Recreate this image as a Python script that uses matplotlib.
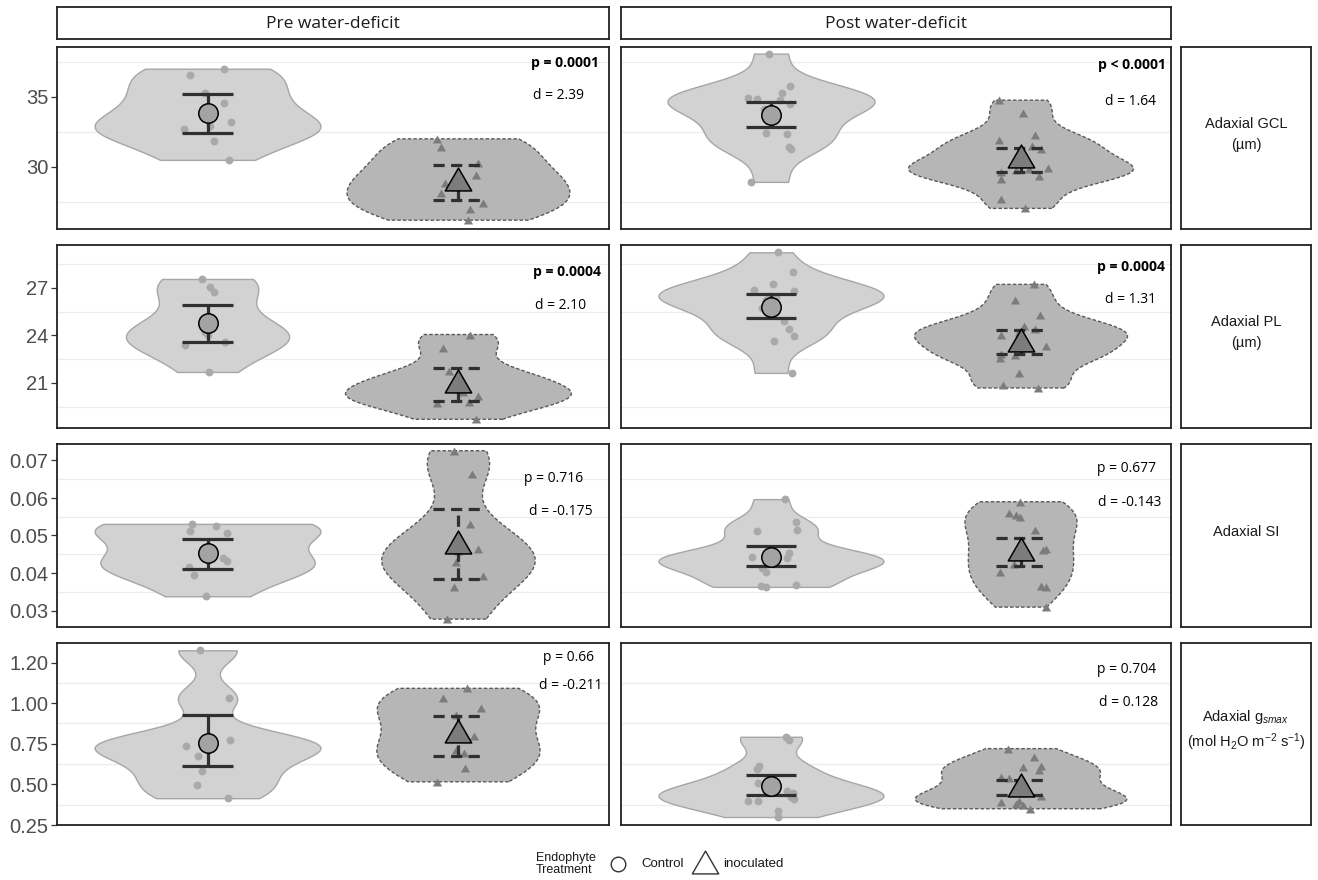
import numpy as np
import matplotlib
matplotlib.use("Agg")
import matplotlib.pyplot as plt
from matplotlib.path import Path

plt.rcParams['font.family'] = ['Liberation Sans', 'DejaVu Sans']
plt.rcParams['mathtext.fontset'] = 'custom'
plt.rcParams['mathtext.rm'] = 'Liberation Sans'
plt.rcParams['mathtext.it'] = 'Liberation Sans:italic'

# ---------------- data ----------------
columns = ["Pre water-deficit", "Post water-deficit"]
traits = ["Adaxial GCL\n(µm)", "Adaxial PL\n(µm)", "Adaxial SI",
          "Adaxial g$_{smax}$\n(mol H$_2$O m$^{-2}$ s$^{-1}$)"]
groups = ["Control", "inoculated"]

# Adaxial GCL
gcl_pre_ctrl = [37.0, 36.52, 35.26, 34.55, 33.19, 32.9, 32.71, 31.88, 30.5]
gcl_pre_ctrl_jit = [0.066, -0.071, -0.011, 0.066, 0.095, 0.008, -0.095, 0.024, 0.087]
gcl_pre_inoc = [32.0, 31.4, 30.26, 29.43, 28.83, 28.17, 27.45, 26.98, 26.2]
gcl_pre_inoc_jit = [-0.087, -0.071, 0.076, 0.071, -0.055, -0.071, 0.098, 0.047, 0.039]
gcl_post_ctrl = [38.08, 35.76, 35.24, 34.93, 34.86, 34.76, 34.45, 34.1, 33.4, 32.44, 32.32, 31.45, 31.3, 28.93]
gcl_post_ctrl_jit = [-0.007, 0.074, 0.043, -0.093, -0.057, 0.036, 0.076, -0.029, 0.0, -0.021, 0.064, 0.071, 0.079, -0.081]
gcl_post_inoc = [34.76, 33.82, 32.27, 31.92, 31.49, 31.26, 30.6, 29.85, 29.95, 29.75, 29.64, 29.36, 29.12, 27.7, 27.04]
gcl_post_inoc_jit = [-0.09, 0.007, 0.057, -0.09, 0.043, 0.079, 0.0, 0.03, 0.107, -0.02, -0.079, 0.071, -0.081, -0.081, 0.014]

# Adaxial PL
pl_pre_ctrl = [27.55, 27.06, 26.75, 24.5, 24.2, 24.0, 23.59, 23.38, 21.69]
pl_pre_ctrl_jit = [-0.024, 0.008, 0.024, 0.01, -0.01, 0.0, 0.068, -0.09, 0.005]
pl_pre_inoc = [24.05, 23.17, 21.74, 21.3, 20.9, 20.4, 20.18, 19.8, 19.76, 18.71]
pl_pre_inoc_jit = [0.047, -0.06, -0.039, 0.01, -0.005, 0.02, 0.079, 0.044, -0.087, 0.071]
pl_post_ctrl = [29.23, 27.97, 27.23, 26.85, 26.79, 26.5, 26.4, 26.3, 26.2, 25.69, 24.89, 24.39, 23.97, 23.63, 21.63]
pl_post_ctrl_jit = [0.029, 0.086, 0.007, -0.067, 0.093, 0.0, 0.02, -0.01, -0.02, -0.036, 0.05, 0.071, 0.09, 0.01, 0.083]
pl_post_inoc = [27.21, 26.22, 25.27, 24.6, 24.39, 24.2, 24.01, 23.9, 23.32, 22.85, 22.75, 22.58, 21.65, 20.85, 20.68]
pl_post_inoc_jit = [0.05, -0.024, 0.076, 0.01, 0.057, -0.01, -0.079, 0.0, 0.1, -0.079, -0.024, -0.086, -0.01, -0.071, 0.069]

# Adaxial SI
si_pre_ctrl = [0.0531, 0.0526, 0.0513, 0.0508, 0.0440, 0.0431, 0.0416, 0.0395, 0.0338]
si_pre_ctrl_jit = [-0.063, 0.032, -0.068, 0.076, 0.063, 0.079, -0.074, -0.055, -0.008]
si_pre_inoc = [0.0726, 0.0664, 0.0531, 0.0464, 0.046, 0.043, 0.0391, 0.0364, 0.0277]
si_pre_inoc_jit = [-0.019, 0.055, 0.047, 0.079, 0.0, -0.01, 0.098, -0.019, -0.044]
si_post_ctrl = [0.0597, 0.0535, 0.0515, 0.0511, 0.0453, 0.0442, 0.0440, 0.0440, 0.0435, 0.0430,
                0.0413, 0.0404, 0.0367, 0.0366, 0.0363]
si_post_ctrl_jit = [0.057, 0.1, 0.104, -0.057, 0.071, -0.076, 0.064, 0.0, 0.01, -0.01,
                    -0.036, -0.021, 0.1, -0.039, -0.021]
si_post_inoc = [0.0590, 0.0561, 0.0555, 0.0549, 0.0515, 0.0464, 0.0462, 0.0425, 0.0404, 0.0366, 0.0363, 0.0309]
si_post_inoc_jit = [-0.004, -0.05, -0.021, -0.004, 0.057, 0.1, 0.086, -0.029, -0.086, 0.079, 0.1, 0.1]

# Adaxial gsmax
gs_pre_ctrl = [1.325, 1.03, 0.776, 0.75, 0.736, 0.675, 0.583, 0.496, 0.415]
gs_pre_ctrl_jit = [-0.032, 0.084, 0.091, 0.005, -0.087, -0.039, -0.024, -0.044, 0.082]
gs_pre_inoc = [1.091, 1.03, 0.97, 0.929, 0.797, 0.711, 0.691, 0.598, 0.516]
gs_pre_inoc_jit = [0.036, -0.06, 0.091, -0.008, 0.063, -0.008, 0.024, 0.028, -0.087]
gs_post_ctrl = [0.793, 0.776, 0.614, 0.593, 0.508, 0.49, 0.461, 0.447, 0.421, 0.411, 0.40, 0.40, 0.339, 0.299]
gs_post_ctrl_jit = [0.061, 0.071, -0.05, -0.057, -0.053, 0.0, 0.064, 0.086, 0.079, 0.093, -0.093, -0.053, 0.029, 0.029]
gs_post_inoc = [0.72, 0.671, 0.614, 0.61, 0.589, 0.543, 0.537, 0.47, 0.45, 0.431, 0.40, 0.39, 0.38, 0.374, 0.35]
gs_post_inoc_jit = [-0.053, 0.053, 0.079, 0.007, 0.071, -0.081, -0.05, 0.0, 0.01, 0.079, -0.01, -0.079, -0.021, 0.007, 0.036]

# means and error-bar bounds: [row][col][group]
means = [[[33.83, 29.15], [33.67, 30.76]],
         [[24.75, 21.09], [25.80, 23.73]],
         [[0.0453, 0.0482], [0.0444, 0.0463]],
         [[0.756, 0.827], [0.492, 0.497]]]
err_lo = [[[32.45, 27.64], [32.87, 29.67]],
          [[23.59, 19.88], [25.06, 22.85]],
          [[0.0410, 0.0384], [0.0419, 0.0418]],
          [[0.614, 0.675], [0.437, 0.437]]]
err_hi = [[[35.21, 30.14], [34.62, 31.37]],
          [[25.91, 21.91], [26.60, 24.33]],
          [[0.0491, 0.0570], [0.0472, 0.0493]],
          [[0.929, 0.923], [0.557, 0.528]]]

p_text = [["p = 0.0001", "p < 0.0001"],
          ["p = 0.0004", "p = 0.0004"],
          ["p = 0.716", "p = 0.677"],
          ["p = 0.66", "p = 0.704"]]
p_bold = [[True, True], [True, True], [False, False], [False, False]]
d_text = [["d = 2.39", "d = 1.64"],
          ["d = 2.10", "d = 1.31"],
          ["d = -0.175", "d = -0.143"],
          ["d = -0.211", "d = 0.128"]]

y_limits = [(25.57, 38.55), (18.16, 29.69), (0.0256, 0.0744), (0.252, 1.37)]
y_ticks = [[30, 35], [21, 24, 27], [0.03, 0.04, 0.05, 0.06, 0.07], [0.25, 0.50, 0.75, 1.00, 1.25]]
y_ticklabels = [["30", "35"], ["21", "24", "27"], ["0.03", "0.04", "0.05", "0.06", "0.07"],
                ["0.25", "0.50", "0.75", "1.00", "1.20"]]
y_minor = [[27.5, 32.5, 37.5], [19.5, 22.5, 25.5, 28.5], [0.035, 0.045, 0.055, 0.065],
           [0.375, 0.625, 0.875, 1.125]]

# text placement in axes fraction (x, y from top)
p_pos = [[(0.921, 0.087), (0.929, 0.10)], [(0.924, 0.147), (0.928, 0.12)],
         [(0.900, 0.19), (0.920, 0.134)], [(0.926, 0.077), (0.919, 0.146)]]
d_pos = [[(0.909, 0.265), (0.926, 0.297)], [(0.913, 0.33), (0.927, 0.30)],
         [(0.912, 0.367), (0.925, 0.32)], [(0.930, 0.236), (0.923, 0.329)]]

values = [[(gcl_pre_ctrl, gcl_pre_inoc), (gcl_post_ctrl, gcl_post_inoc)],
          [(pl_pre_ctrl, pl_pre_inoc), (pl_post_ctrl, pl_post_inoc)],
          [(si_pre_ctrl, si_pre_inoc), (si_post_ctrl, si_post_inoc)],
          [(gs_pre_ctrl, gs_pre_inoc), (gs_post_ctrl, gs_post_inoc)]]
jitters = [[(gcl_pre_ctrl_jit, gcl_pre_inoc_jit), (gcl_post_ctrl_jit, gcl_post_inoc_jit)],
           [(pl_pre_ctrl_jit, pl_pre_inoc_jit), (pl_post_ctrl_jit, pl_post_inoc_jit)],
           [(si_pre_ctrl_jit, si_pre_inoc_jit), (si_post_ctrl_jit, si_post_inoc_jit)],
           [(gs_pre_ctrl_jit, gs_pre_inoc_jit), (gs_post_ctrl_jit, gs_post_inoc_jit)]]

# ---------------- styling ----------------
W, H = 1318, 880
fig = plt.figure(figsize=(W / 100, H / 100), dpi=100)
fig.patch.set_facecolor("white")


def px_axes(x0, y0, x1, y1, **kw):
    return fig.add_axes([x0 / W, 1 - y1 / H, (x1 - x0) / W, (y1 - y0) / H], **kw)


col_x = [(57, 609), (621, 1171)]
row_y = [(47, 229), (245, 428), (444, 627), (643, 825)]
strip_x = (1181, 1311)
head_y = (7, 39)
frame_col = "#222222"
frame_lw = 1.3

tri = Path([(0, 0.866), (-1, -0.866), (1, -0.866), (0, 0.866)],
           [Path.MOVETO, Path.LINETO, Path.LINETO, Path.CLOSEPOLY])


def density(vals, n=512):
    """Gaussian KDE with R's bw.nrd0, evaluated over the data range (trimmed)."""
    x = np.asarray(vals, dtype=float)
    sd = np.std(x, ddof=1)
    q75, q25 = np.percentile(x, [75, 25])
    iqr = (q75 - q25) / 1.34
    lo = min(sd, iqr) if iqr > 0 else sd
    bw = 0.9 * lo * len(x) ** (-0.2)
    yy = np.linspace(x.min(), x.max(), n)
    dens = np.exp(-0.5 * ((yy[:, None] - x[None, :]) / bw) ** 2).sum(axis=1)
    dens /= len(x) * bw * np.sqrt(2 * np.pi)
    return yy, dens


viol_face = ["#d2d2d2", "#b6b6b6"]
viol_edge = ["#a6a6a6", "#5a5a5a"]
viol_ls = ["solid", (0, (2.5, 1.5))]
pt_col = ["#a9a9a9", "#7c7c7c"]
mean_face = ["#a3a3a3", "#7c7c7c"]
err_col = "#303030"
txt_font = ["Open Sans", "DejaVu Sans"]

for r in range(4):
    for c in range(2):
        ax = px_axes(col_x[c][0], row_y[r][0], col_x[c][1], row_y[r][1])
        ax.set_xlim(0.4, 2.6)
        ax.set_ylim(*y_limits[r])
        for yv in y_minor[r]:
            ax.axhline(yv, color="#ececec", lw=0.9, zorder=0)
        curves = [density(values[r][c][g]) for g in range(2)]
        dmax = max(cv[1].max() for cv in curves)   # scale = "area" within a panel
        for g in range(2):
            pos = g + 1
            yy, dd = curves[g]
            half = 0.45 * dd / dmax
            ax.fill_betweenx(yy, pos - half, pos + half, facecolor=viol_face[g],
                             edgecolor=viol_edge[g], linewidth=1.0, linestyle=viol_ls[g], zorder=1)
        for g in range(2):
            pos = g + 1
            xs = pos + np.asarray(jitters[r][c][g])
            ys = np.asarray(values[r][c][g])
            if g == 0:
                ax.scatter(xs, ys, s=32, marker="o", color=pt_col[g], linewidths=0, zorder=2)
            else:
                ax.scatter(xs, ys, s=44, marker=tri, color=pt_col[g], linewidths=0, zorder=2)
            ls = "solid" if g == 0 else (0, (3.5, 2))
            ax.vlines(pos, err_lo[r][c][g], err_hi[r][c][g], colors=err_col, lw=2.3,
                      linestyles=ls, zorder=3)
            ax.hlines([err_lo[r][c][g], err_hi[r][c][g]], pos - 0.1, pos + 0.1, colors=err_col,
                      lw=2.3, linestyles=ls, zorder=3)
            if g == 0:
                ax.plot(pos, means[r][c][g], marker="o", ms=14, mfc=mean_face[g], mec="black",
                        mew=1.1, zorder=4)
            else:
                ax.plot(pos, means[r][c][g], marker=tri, ms=19, mfc=mean_face[g], mec="black",
                        mew=1.1, zorder=4)
        px_, py_ = p_pos[r][c]
        ax.text(px_, 1 - py_, p_text[r][c], transform=ax.transAxes, ha="center", va="center",
                fontsize=10, family=txt_font,
                fontweight="bold" if p_bold[r][c] else "normal", color="black")
        dx_, dy_ = d_pos[r][c]
        ax.text(dx_, 1 - dy_, d_text[r][c], transform=ax.transAxes, ha="center", va="center",
                fontsize=10, family=txt_font, color="black")
        ax.set_xticks([])
        ax.set_yticks(y_ticks[r])
        if c == 0:
            ax.set_yticklabels(y_ticklabels[r])
            ax.tick_params(axis="y", labelsize=14.5, labelcolor="#4d4d4d", color="#333333",
                           length=4, width=0.9, pad=2)
        else:
            ax.set_yticklabels([])
            ax.tick_params(axis="y", length=0)
        for sp in ax.spines.values():
            sp.set_color(frame_col)
            sp.set_linewidth(frame_lw)

# column strips
for c in range(2):
    sa = px_axes(col_x[c][0], head_y[0], col_x[c][1], head_y[1])
    sa.set_xticks([])
    sa.set_yticks([])
    for sp in sa.spines.values():
        sp.set_color(frame_col)
        sp.set_linewidth(frame_lw)
    sa.text(0.5, 0.48, columns[c], transform=sa.transAxes, ha="center", va="center",
            fontsize=12.5, family=txt_font, color="#1a1a1a")

# row strips
for r in range(4):
    sa = px_axes(strip_x[0], row_y[r][0], strip_x[1], row_y[r][1])
    sa.set_xticks([])
    sa.set_yticks([])
    for sp in sa.spines.values():
        sp.set_color(frame_col)
        sp.set_linewidth(frame_lw)
    sa.text(0.5, 0.52, traits[r], transform=sa.transAxes, ha="center", va="center",
            fontsize=10.5, color="#1a1a1a", linespacing=1.65 if r < 2 else 1.35)

# legend
lax = px_axes(0, 0, W, H)
lax.set_xlim(0, W)
lax.set_ylim(H, 0)
lax.axis("off")
lax.patch.set_alpha(0)
lax.text(536, 864, "Endophyte\nTreatment", ha="left", va="center", fontsize=9,
         color="#1a1a1a", linespacing=1.0)
lax.plot(618, 864, marker="o", ms=10.5, mfc="white", mec="#333333", mew=1.0)
lax.text(641, 864, groups[0], ha="left", va="center", fontsize=9.5, color="#1a1a1a")
lax.plot(705, 862, marker=tri, ms=19, mfc="white", mec="#333333", mew=1.0)
lax.text(723, 864, groups[1], ha="left", va="center", fontsize=9.5, color="#1a1a1a")

fig.savefig("out.png", dpi=100, facecolor="white")
